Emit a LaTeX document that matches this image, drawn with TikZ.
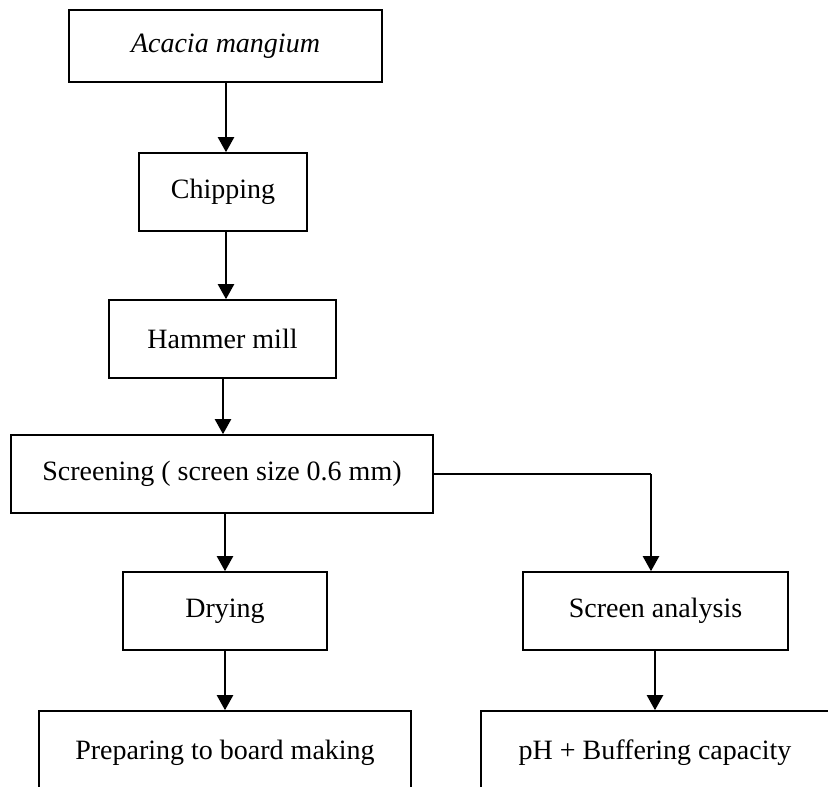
\documentclass[tikz,border=0pt]{standalone}
\usepackage{fontspec}
\setmainfont{Liberation Serif}
\usetikzlibrary{arrows.meta}
\begin{document}
\begin{tikzpicture}[x=1pt,y=-1pt,
  box/.style={draw,line width=1.6pt,inner sep=0pt,align=center,font=\fontsize{28}{32}\selectfont},
  flow/.style={line width=2.2pt,-{Triangle[length=15pt,width=16pt]}}]
\useasboundingbox (0,0) rectangle (828,787);
\clip (0,0) rectangle (828,787);
\node[box,minimum width=313,minimum height=72] (acacia) at (225.5,46) {\textit{Acacia mangium}};
\node[box,minimum width=168,minimum height=78] (chip) at (223,192) {Chipping};
\node[box,minimum width=227,minimum height=78] (hammer) at (222.5,339) {Hammer mill};
\node[box,minimum width=422,minimum height=78] (screen) at (222,474) {Screening ( screen size 0.6 mm)};
\node[box,minimum width=204,minimum height=78] (dry) at (225,611) {Drying};
\node[box,minimum width=265,minimum height=78] (analysis) at (655.5,611) {Screen analysis};
\node[box,minimum width=372,minimum height=84] (prep) at (225,753) {Preparing to board making};
\node[box,minimum width=348,minimum height=84] (ph) at (655,753) {pH + Buffering capacity};
\coordinate (turn) at (651,474);
\draw[flow] (acacia.south -| 226,0) -- (chip.north -| 226,0);
\draw[flow] (chip.south -| 226,0) -- (hammer.north -| 226,0);
\draw[flow] (hammer.south -| 223,0) -- (screen.north -| 223,0);
\draw[flow] (screen.south -| 225,0) -- (dry.north -| 225,0);
\draw[line width=1.6pt] (screen.east) -- (turn);
\draw[flow] (turn) -- (analysis.north -| turn);
\draw[flow] (analysis.south -| 655,0) -- (ph.north -| 655,0);
\draw[flow] (dry.south) -- (prep.north -| dry.south);
\end{tikzpicture}
\end{document}
